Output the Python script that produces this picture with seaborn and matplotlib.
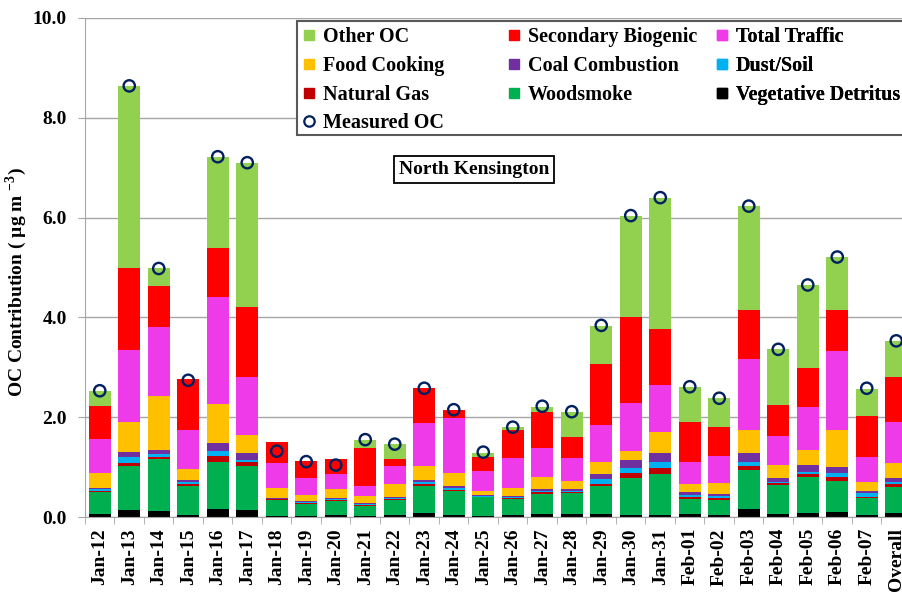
import numpy as np
import matplotlib
matplotlib.use("Agg")
import matplotlib.pyplot as plt
from matplotlib.lines import Line2D
from matplotlib.patches import Rectangle
from matplotlib.ticker import FormatStrFormatter
import seaborn as sns

# sampling days (North Kensington) + campaign mean
dates = ["Jan-12", "Jan-13", "Jan-14", "Jan-15", "Jan-16", "Jan-17", "Jan-18",
         "Jan-19", "Jan-20", "Jan-21", "Jan-22", "Jan-23", "Jan-24", "Jan-25",
         "Jan-26", "Jan-27", "Jan-28", "Jan-29", "Jan-30", "Jan-31", "Feb-01",
         "Feb-02", "Feb-03", "Feb-04", "Feb-05", "Feb-06", "Feb-07", "Overall"]

# source contributions to OC (ug m-3), bottom of the stack first
veg_detritus = [0.06, 0.14, 0.13, 0.04, 0.16, 0.14, 0.03, 0.03, 0.04, 0.03, 0.04, 0.08, 0.05, 0.02,
                0.04, 0.06, 0.06, 0.06, 0.05, 0.05, 0.06, 0.05, 0.16, 0.06, 0.08, 0.10, 0.05, 0.08]
woodsmoke = [0.44, 0.89, 1.04, 0.59, 0.95, 0.89, 0.31, 0.23, 0.28, 0.19, 0.30, 0.55, 0.47, 0.38,
             0.32, 0.40, 0.42, 0.56, 0.74, 0.81, 0.30, 0.30, 0.79, 0.58, 0.72, 0.63, 0.33, 0.53]
natural_gas = [0.02, 0.06, 0.04, 0.03, 0.11, 0.07, 0.02, 0.02, 0.02, 0.02, 0.02, 0.03, 0.03, 0.01,
               0.02, 0.04, 0.02, 0.04, 0.10, 0.13, 0.04, 0.03, 0.08, 0.04, 0.06, 0.07, 0.03, 0.05]
dust_soil = [0.04, 0.12, 0.05, 0.05, 0.11, 0.05, 0.01, 0.03, 0.02, 0.02, 0.02, 0.04, 0.03, 0.02,
             0.02, 0.03, 0.02, 0.10, 0.09, 0.11, 0.04, 0.04, 0.08, 0.03, 0.05, 0.08, 0.07, 0.05]
coal = [0.02, 0.09, 0.09, 0.04, 0.15, 0.13, 0.02, 0.02, 0.02, 0.02, 0.03, 0.04, 0.04, 0.01,
        0.03, 0.04, 0.05, 0.10, 0.16, 0.19, 0.06, 0.04, 0.17, 0.08, 0.14, 0.12, 0.05, 0.07]
food_cooking = [0.30, 0.61, 1.08, 0.22, 0.78, 0.37, 0.20, 0.11, 0.18, 0.15, 0.26, 0.29, 0.27, 0.08,
                0.15, 0.23, 0.15, 0.25, 0.19, 0.41, 0.16, 0.22, 0.47, 0.26, 0.30, 0.75, 0.18, 0.31]
traffic = [0.69, 1.44, 1.38, 0.78, 2.15, 1.16, 0.50, 0.35, 0.31, 0.19, 0.36, 0.86, 1.10, 0.41,
           0.61, 0.59, 0.47, 0.74, 0.95, 0.95, 0.45, 0.55, 1.41, 0.58, 0.86, 1.58, 0.50, 0.81]
sec_biogenic = [0.65, 1.64, 0.81, 1.01, 0.98, 1.40, 0.42, 0.34, 0.30, 0.76, 0.14, 0.69, 0.16, 0.28,
                0.55, 0.71, 0.41, 1.22, 1.73, 1.12, 0.80, 0.58, 0.99, 0.62, 0.78, 0.81, 0.82, 0.90]
other_oc = [0.30, 3.65, 0.36, 0.00, 1.83, 2.88, 0.00, 0.00, 0.00, 0.17, 0.29, 0.00, 0.00, 0.08,
            0.06, 0.11, 0.51, 0.76, 2.03, 2.62, 0.69, 0.57, 2.08, 1.11, 1.66, 1.07, 0.54, 0.72]

measured_oc = [2.53, 8.64, 4.98, 2.74, 7.22, 7.10, 1.32, 1.11, 1.04, 1.55, 1.46, 2.58, 2.15, 1.30,
               1.80, 2.22, 2.11, 3.84, 6.04, 6.40, 2.61, 2.38, 6.23, 3.36, 4.65, 5.21, 2.58, 3.53]

sources = [
    ("Vegetative Detritus", veg_detritus, "#000000"),
    ("Woodsmoke", woodsmoke, "#00B050"),
    ("Natural Gas", natural_gas, "#C00000"),
    ("Dust/Soil", dust_soil, "#00B0F0"),
    ("Coal Combustion", coal, "#7030A0"),
    ("Food Cooking", food_cooking, "#FFC000"),
    ("Total Traffic", traffic, "#EE3AE8"),
    ("Secondary Biogenic", sec_biogenic, "#FF0000"),
    ("Other OC", other_oc, "#92D050"),
]
colors = {name: c for name, _, c in sources}

plt.rcParams["font.family"] = ["Liberation Serif", "DejaVu Serif"]
plt.rcParams["font.weight"] = "bold"
plt.rcParams["mathtext.fontset"] = "custom"
plt.rcParams["mathtext.rm"] = "Liberation Serif:bold"
plt.rcParams["mathtext.bf"] = "Liberation Serif:bold"

fig = plt.figure(figsize=(9.03, 5.92), dpi=100)
ax = fig.add_axes([85 / 903, 75 / 592, 826 / 903, 499 / 592])

# stacked bars: draw cumulative totals, tallest first
tops = np.cumsum(np.array([s[1] for s in sources]), axis=0)
for (name, vals, col), top in reversed(list(zip(sources, tops))):
    sns.barplot(x=dates, y=top, color=col, saturation=1, width=0.73,
                linewidth=0, ax=ax, zorder=2)

ax.scatter(np.arange(len(dates)), measured_oc, s=66, facecolors="none",
           edgecolors="#002060", linewidths=1.7, zorder=5)

ax.set_xlim(-0.5, 27.5)
ax.set_ylim(0, 10)
ax.set_yticks(np.arange(0, 10.1, 2))
ax.yaxis.set_major_formatter(FormatStrFormatter("%.1f"))
ax.grid(axis="y", color="#A6A6A6", lw=1.0)
ax.set_axisbelow(True)
for s in ["top", "right"]:
    ax.spines[s].set_visible(False)
for s in ["left", "bottom"]:
    ax.spines[s].set_color("#A6A6A6")

ax.set_xticks(np.arange(-0.5, 28, 1), minor=True)
ax.tick_params(axis="x", which="major", length=0, pad=8, labelsize=14, labelrotation=90)
ax.tick_params(axis="x", which="minor", length=5, color="#A6A6A6")
ax.tick_params(axis="y", length=5, color="#A6A6A6", pad=8, labelsize=14)

ax.set_xlabel("")
ax.set_ylabel(r"OC Contribution ( µg m $^{\mathbf{-3}}$)", fontsize=14, fontweight="bold")
ax.yaxis.set_label_coords(-0.068, 0.47)

ax.text(0.471, 0.697, "North Kensington", transform=ax.transAxes, ha="center", va="center",
        fontsize=14, fontweight="bold",
        bbox=dict(boxstyle="square,pad=0.25", fc="white", ec="black", lw=1.3))

# legend: boxed, three columns
ax.add_patch(Rectangle((0.2567, 0.7655), 0.8, 0.2285, transform=ax.transAxes,
                       fc="white", ec="#595959", lw=1.5, clip_on=False, zorder=4))


def sq(c):
    return Line2D([], [], marker="s", linestyle="none", markersize=7, mfc=c, mec=c)


meas_handle = Line2D([], [], marker="o", linestyle="none", markersize=7.5,
                     mfc="none", mec="#002060", mew=1.6)
columns = [
    (0.2615, ["Other OC", "Food Cooking", "Natural Gas", "Measured OC"]),
    (0.5097, ["Secondary Biogenic", "Coal Combustion", "Woodsmoke"]),
    (0.7615, ["Total Traffic", "Dust/Soil", "Vegetative Detritus"]),
]
for xpos, labels in columns:
    handles = [meas_handle if lab == "Measured OC" else sq(colors[lab]) for lab in labels]
    leg = ax.legend(handles, labels, loc="upper left", bbox_to_anchor=(xpos, 0.981),
                    bbox_transform=ax.transAxes, frameon=False,
                    prop=dict(weight="bold", size=14.5), handlelength=0.8,
                    handletextpad=0.3, borderpad=0, borderaxespad=0, labelspacing=0.43)
    leg.set_zorder(6)
    ax.add_artist(leg)

fig.savefig("out.png", dpi=100)
